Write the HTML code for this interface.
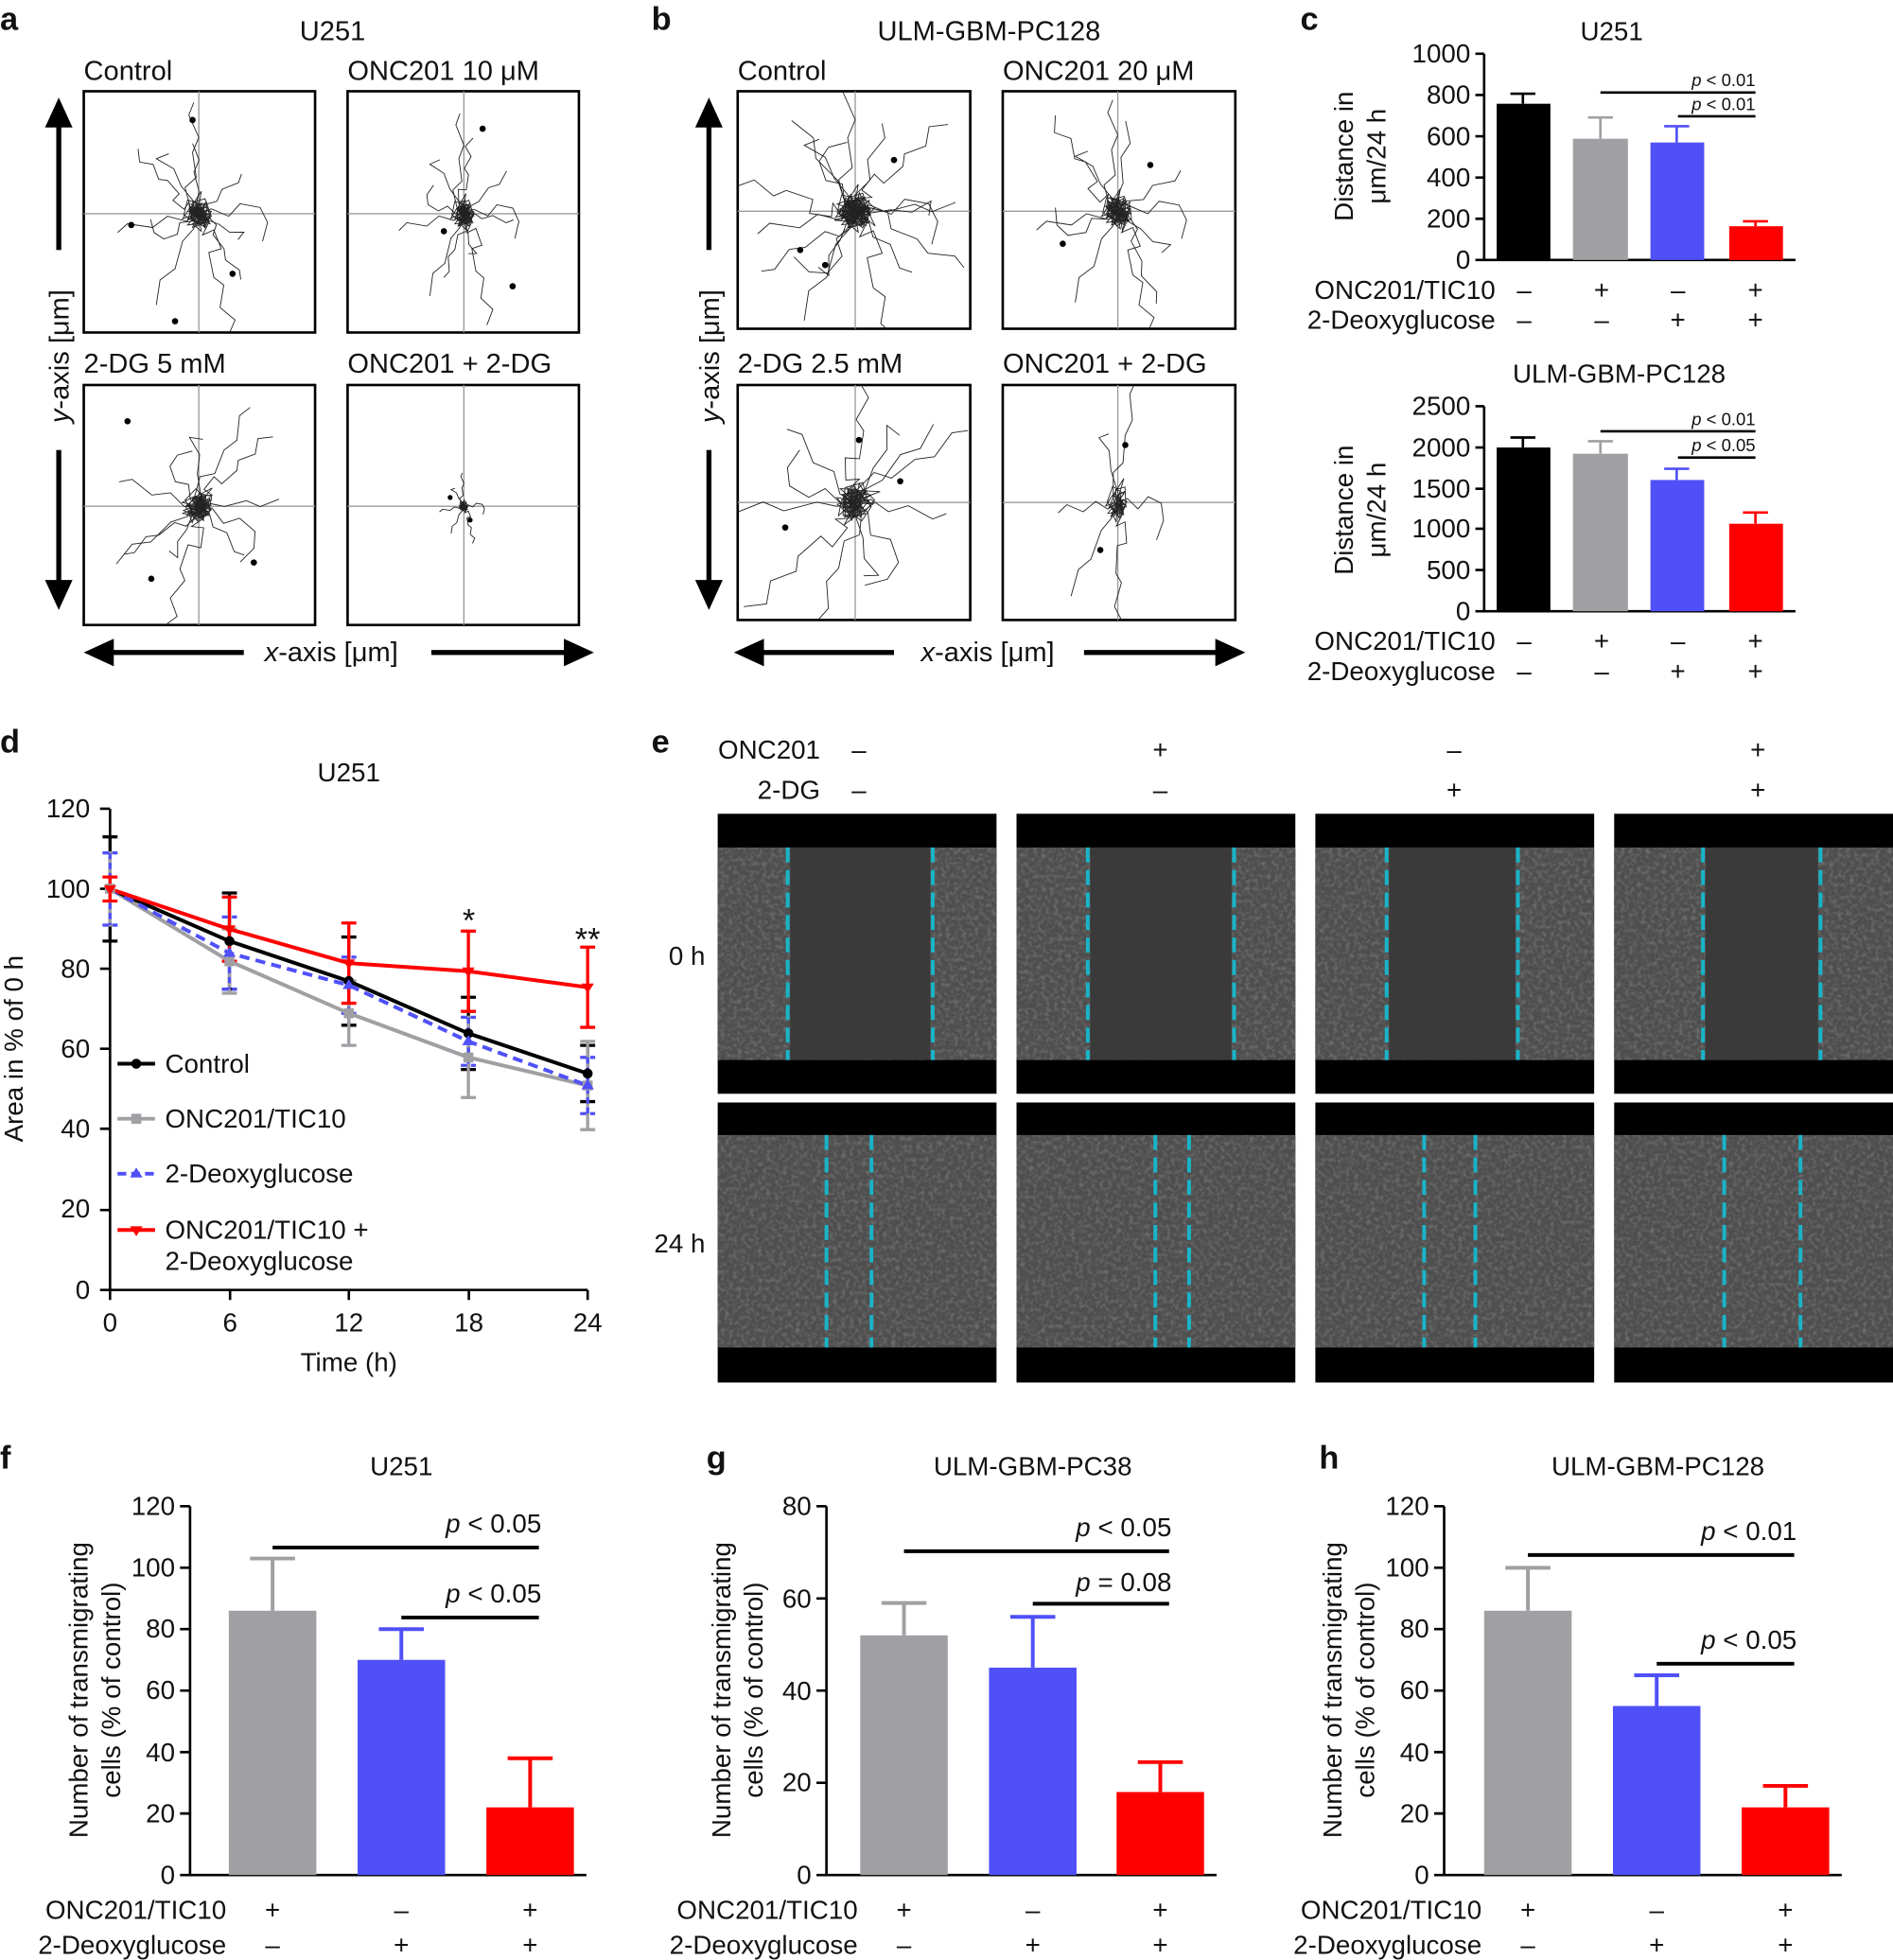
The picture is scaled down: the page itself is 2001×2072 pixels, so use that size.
<!DOCTYPE html>
<html><head><meta charset="utf-8"><style>
html,body{margin:0;padding:0;background:#fff}
svg{display:block}
text{font-family:"Liberation Sans",sans-serif;fill:#111}
</style></head><body>
<svg xmlns="http://www.w3.org/2000/svg" xmlns:xlink="http://www.w3.org/1999/xlink" width="2001" height="2072" viewBox="0 0 1514 1568" preserveAspectRatio="none">
<defs>
<filter id="tex" x="0" y="0" width="1" height="1"><feTurbulence type="fractalNoise" baseFrequency="0.3" numOctaves="2" seed="3"/><feColorMatrix type="matrix" values="0 0 0 0 1  0 0 0 0 1  0 0 0 0 1  0 0 0 1.2 -0.5"/></filter>
<clipPath id="c1"><rect x="67" y="73" width="185" height="193"/></clipPath>
<clipPath id="c2"><rect x="278" y="73" width="185" height="193"/></clipPath>
<clipPath id="c3"><rect x="67" y="308" width="185" height="192"/></clipPath>
<clipPath id="c4"><rect x="278" y="308" width="185" height="192"/></clipPath>
<clipPath id="c5"><rect x="590" y="73" width="186" height="190"/></clipPath>
<clipPath id="c6"><rect x="802" y="73" width="186" height="190"/></clipPath>
<clipPath id="c7"><rect x="590" y="308" width="186" height="188"/></clipPath>
<clipPath id="c8"><rect x="802" y="308" width="186" height="188"/></clipPath>
<g id="trk" fill="none" stroke="#222" stroke-width="0.9">
<path vector-effect="non-scaling-stroke" d="M0,0 l6,-9 l-8,4 l12,7 l-5,-14 l-10,3 l4,11 l9,-2 l-13,8 l7,6 l-3,-17 l11,1 l-6,12 l-9,-5 l14,-3 l-4,9 l-12,-8 l8,-10 l5,14 l-15,2 l6,-7 l9,5 l-11,4 l3,-9"/>
<path vector-effect="non-scaling-stroke" d="M0,0 l-9,5 l4,-11 l10,6 l-6,8 l-11,-7 l3,-12 l14,4 l-7,9 l-5,-6 l9,-14 l-3,18 l-12,4 l6,-9 l11,5 l-18,-22 l-6,-14 l-14,-8 l10,-4"/>
<path vector-effect="non-scaling-stroke" d="M0,0 l8,7 l-5,10 l9,-4 l6,15 l-10,3 l4,20 l8,6 l-3,18 l12,10 l-6,14"/>
<path vector-effect="non-scaling-stroke" d="M0,0 l-7,-6 l-4,-15 l9,-8 l-3,-20 l5,-12 l-8,-18 l4,-10"/>
<path vector-effect="non-scaling-stroke" d="M0,0 l-10,6 l-15,-4 l-12,9 l-20,-3 l-8,7"/>
<path vector-effect="non-scaling-stroke" d="M0,0 l10,-4 l14,6 l9,-10 l16,3 l6,12 l-4,15"/>
<path vector-effect="non-scaling-stroke" d="M0,0 l-4,12 l-9,10 l-6,22 l-12,9 l-3,20"/>
<path vector-effect="non-scaling-stroke" d="M0,0 l5,5 l-7,4 l6,-10 l4,7 l-9,-3 l7,-6 l-5,9 l8,2 l-6,-8 l-4,6 l9,-2"/>
</g>
</defs>
<g font-size="22">
<text x="0" y="24" font-size="26" font-weight="bold">a</text>
<text x="521" y="24" font-size="26" font-weight="bold">b</text>
<text x="1040" y="24" font-size="26" font-weight="bold">c</text>
<text x="0" y="602" font-size="26" font-weight="bold">d</text>
<text x="521" y="602" font-size="26" font-weight="bold">e</text>
<text x="0" y="1175" font-size="26" font-weight="bold">f</text>
<text x="565" y="1175" font-size="26" font-weight="bold">g</text>
<text x="1055" y="1175" font-size="26" font-weight="bold">h</text>
<text x="266" y="32" text-anchor="middle">U251</text>
<text x="67" y="64">Control</text><text x="278" y="64">ONC201 10 μM</text>
<text x="67" y="298">2-DG 5 mM</text><text x="278" y="298">ONC201 + 2-DG</text>
<text x="791" y="32" text-anchor="middle">ULM-GBM-PC128</text>
<text x="590" y="64">Control</text><text x="802" y="64">ONC201 20 μM</text>
<text x="590" y="298">2-DG 2.5 mM</text><text x="802" y="298">ONC201 + 2-DG</text>
</g>
<g fill="none" stroke="#000" stroke-width="2">
<rect x="67" y="73" width="185" height="193"/><rect x="278" y="73" width="185" height="193"/>
<rect x="67" y="308" width="185" height="192"/><rect x="278" y="308" width="185" height="192"/>
<rect x="590" y="73" width="186" height="190"/><rect x="802" y="73" width="186" height="190"/>
<rect x="590" y="308" width="186" height="188"/><rect x="802" y="308" width="186" height="188"/>
</g>
<path stroke="#999" stroke-width="1" d="M67,171H252M159,73V266 M278,171H463M371,73V266 M67,405H252M159,308V500 M278,405H463M371,308V500 M590,169H776M684,73V263 M802,169H988M894,73V263 M590,402H776M684,308V496 M802,402H988M894,308V496"/>
<g clip-path="url(#c1)"><use xlink:href="#trk" transform="translate(159,171) scale(1.0)"/><use xlink:href="#trk" transform="translate(159,171) rotate(150) scale(0.7)"/></g>
<g clip-path="url(#c2)"><use xlink:href="#trk" transform="translate(371,171) scale(0.8,0.9)"/><use xlink:href="#trk" transform="translate(371,171) rotate(200) scale(0.6)"/></g>
<g clip-path="url(#c3)"><use xlink:href="#trk" transform="translate(159,405) rotate(30) scale(1.0)"/><use xlink:href="#trk" transform="translate(159,405) rotate(240) scale(0.8)"/></g>
<g clip-path="url(#c4)"><use xlink:href="#trk" transform="translate(371,405) scale(0.3)"/></g>
<g clip-path="url(#c5)"><use xlink:href="#trk" transform="translate(684,169) scale(1.2)"/><use xlink:href="#trk" transform="translate(684,169) rotate(120) scale(1.1)"/><use xlink:href="#trk" transform="translate(684,169) rotate(240) scale(1.0)"/></g>
<g clip-path="url(#c6)"><use xlink:href="#trk" transform="translate(894,169) scale(1.0)"/><use xlink:href="#trk" transform="translate(894,169) rotate(160) scale(0.9)"/></g>
<g clip-path="url(#c7)"><use xlink:href="#trk" transform="translate(684,402) rotate(60) scale(1.2)"/><use xlink:href="#trk" transform="translate(684,402) rotate(200) scale(1.1)"/></g>
<g clip-path="url(#c8)"><use xlink:href="#trk" transform="translate(894,402) rotate(10) scale(0.7,1.1)"/></g>
<g fill="#000">
<circle cx="154" cy="96" r="2.5"/><circle cx="140" cy="257" r="2.5"/><circle cx="186" cy="219" r="2.5"/><circle cx="105" cy="180" r="2.5"/>
<circle cx="410" cy="229" r="2.5"/><circle cx="355" cy="185" r="2.5"/><circle cx="386" cy="103" r="2.5"/>
<circle cx="102" cy="337" r="2.5"/><circle cx="121" cy="463" r="2.5"/><circle cx="203" cy="450" r="2.5"/>
<circle cx="360" cy="398" r="2"/><circle cx="376" cy="416" r="2"/>
<circle cx="640" cy="200" r="2.5"/><circle cx="715" cy="128" r="2.5"/><circle cx="660" cy="212" r="2.5"/>
<circle cx="850" cy="195" r="2.5"/><circle cx="920" cy="132" r="2.5"/>
<circle cx="628" cy="422" r="2.5"/><circle cx="687" cy="352" r="2.5"/><circle cx="720" cy="385" r="2.5"/>
<circle cx="900" cy="356" r="2.5"/><circle cx="880" cy="440" r="2.5"/>
</g>
<g fill="#000">
<path d="M47,78 l-11,24h22z"/><rect x="45" y="100" width="4" height="100"/>
<path d="M47,488 l-11,-24h22z"/><rect x="45" y="360" width="4" height="106"/>
<path d="M67,522 l24,-11v22z"/><rect x="89" y="520" width="106" height="4"/>
<path d="M475,522 l-24,-11v22z"/><rect x="345" y="520" width="108" height="4"/>
<path d="M567,78 l-11,24h22z"/><rect x="565" y="100" width="4" height="100"/>
<path d="M567,488 l-11,-24h22z"/><rect x="565" y="360" width="4" height="106"/>
<path d="M587,522 l24,-11v22z"/><rect x="609" y="520" width="106" height="4"/>
<path d="M996,522 l-24,-11v22z"/><rect x="867" y="520" width="107" height="4"/>
</g>
<g font-size="22">
<text transform="translate(55,285) rotate(-90)" text-anchor="middle"><tspan font-style="italic">y</tspan>-axis [μm]</text>
<text transform="translate(575,285) rotate(-90)" text-anchor="middle"><tspan font-style="italic">y</tspan>-axis [μm]</text>
<text x="265" y="529" text-anchor="middle"><tspan font-style="italic">x</tspan>-axis [μm]</text>
<text x="790" y="529" text-anchor="middle"><tspan font-style="italic">x</tspan>-axis [μm]</text>
</g>

<!-- c top -->
<g font-size="21">
<text x="1289" y="32" text-anchor="middle">U251</text>
<g text-anchor="end"><text x="1176" y="50">1000</text><text x="1176" y="83">800</text><text x="1176" y="116">600</text><text x="1176" y="149">400</text><text x="1176" y="182">200</text><text x="1176" y="215">0</text></g>
<text transform="translate(1082,125) rotate(-90)" text-anchor="middle">Distance in</text>
<text transform="translate(1108,125) rotate(-90)" text-anchor="middle">μm/24 h</text>
<path d="M1187,43 V208 H1436 M1180,43H1187 M1180,76H1187 M1180,109H1187 M1180,142H1187 M1180,175H1187 M1180,208H1187" stroke="#000" stroke-width="2" fill="none"/>
<rect x="1197" y="83" width="43" height="125" fill="#000"/>
<rect x="1258" y="111" width="44" height="97" fill="#a0a0a4"/>
<rect x="1320" y="114" width="43" height="94" fill="#5050f8"/>
<rect x="1383" y="181" width="43" height="27" fill="#ff0000"/>
<path d="M1218,83V75M1208,75H1228" stroke="#000" stroke-width="2"/>
<path d="M1280,111V94M1270,94H1290" stroke="#a0a0a4" stroke-width="2"/>
<path d="M1341,114V101M1331,101H1351" stroke="#5050f8" stroke-width="2"/>
<path d="M1404,181V177M1394,177H1414" stroke="#ff0000" stroke-width="2"/>
<path d="M1280,74H1404M1342,93H1404" stroke="#000" stroke-width="2"/>
<text x="1404" y="69" font-size="14" text-anchor="end"><tspan font-style="italic">p</tspan> &lt; 0.01</text>
<text x="1404" y="88" font-size="14" text-anchor="end"><tspan font-style="italic">p</tspan> &lt; 0.01</text>
<text x="1196" y="239" text-anchor="end">ONC201/TIC10</text><text x="1196" y="263" text-anchor="end">2-Deoxyglucose</text>
<g text-anchor="middle"><text x="1219" y="239">–</text><text x="1281" y="239">+</text><text x="1342" y="239">–</text><text x="1404" y="239">+</text>
<text x="1219" y="263">–</text><text x="1281" y="263">–</text><text x="1342" y="263">+</text><text x="1404" y="263">+</text></g>
</g>
<!-- c bottom -->
<g font-size="21">
<text x="1295" y="306" text-anchor="middle">ULM-GBM-PC128</text>
<g text-anchor="end"><text x="1176" y="332">2500</text><text x="1176" y="365">2000</text><text x="1176" y="398">1500</text><text x="1176" y="430">1000</text><text x="1176" y="463">500</text><text x="1176" y="496">0</text></g>
<text transform="translate(1082,408) rotate(-90)" text-anchor="middle">Distance in</text>
<text transform="translate(1108,408) rotate(-90)" text-anchor="middle">μm/24 h</text>
<path d="M1187,325 V489 H1436 M1180,325H1187 M1180,358H1187 M1180,391H1187 M1180,423H1187 M1180,456H1187 M1180,489H1187" stroke="#000" stroke-width="2" fill="none"/>
<rect x="1197" y="358" width="43" height="131" fill="#000"/>
<rect x="1258" y="363" width="44" height="126" fill="#a0a0a4"/>
<rect x="1320" y="384" width="43" height="105" fill="#5050f8"/>
<rect x="1383" y="419" width="43" height="70" fill="#ff0000"/>
<path d="M1218,358V350M1208,350H1228" stroke="#000" stroke-width="2"/>
<path d="M1280,363V353M1270,353H1290" stroke="#a0a0a4" stroke-width="2"/>
<path d="M1341,384V375M1331,375H1351" stroke="#5050f8" stroke-width="2"/>
<path d="M1404,419V410M1394,410H1414" stroke="#ff0000" stroke-width="2"/>
<path d="M1280,345H1404M1342,366H1404" stroke="#000" stroke-width="2"/>
<text x="1404" y="340" font-size="14" text-anchor="end"><tspan font-style="italic">p</tspan> &lt; 0.01</text>
<text x="1404" y="361" font-size="14" text-anchor="end"><tspan font-style="italic">p</tspan> &lt; 0.05</text>
<text x="1196" y="520" text-anchor="end">ONC201/TIC10</text><text x="1196" y="544" text-anchor="end">2-Deoxyglucose</text>
<g text-anchor="middle"><text x="1219" y="520">–</text><text x="1281" y="520">+</text><text x="1342" y="520">–</text><text x="1404" y="520">+</text>
<text x="1219" y="544">–</text><text x="1281" y="544">–</text><text x="1342" y="544">+</text><text x="1404" y="544">+</text></g>
</g>

<!-- d -->
<g font-size="21">
<text x="279" y="625" text-anchor="middle">U251</text>
<g text-anchor="end"><text x="72" y="654">120</text><text x="72" y="718">100</text><text x="72" y="782">80</text><text x="72" y="846">60</text><text x="72" y="910">40</text><text x="72" y="974">20</text><text x="72" y="1039">0</text></g>
<text transform="translate(18,839) rotate(-90)" text-anchor="middle">Area in % of 0 h</text>
<path d="M88,647V1032H470 M80,647H88M80,711H88M80,775H88M80,839H88M80,903H88M80,968H88M80,1032H88 M88,1032V1040M184,1032V1040M279,1032V1040M375,1032V1040M470,1032V1040" stroke="#000" stroke-width="2" fill="none"/>
<g text-anchor="middle"><text x="88" y="1065">0</text><text x="184" y="1065">6</text><text x="279" y="1065">12</text><text x="375" y="1065">18</text><text x="470" y="1065">24</text></g>
<text x="279" y="1097" text-anchor="middle">Time (h)</text>
<g stroke-width="2.5" fill="none">
<path stroke="#000" d="M88,669.5V752.9M82,669.5h12M82,752.9h12 M183.5,714.4V791.4M177.5,714.4h12M177.5,791.4h12 M279,749.6V820.2M273,749.6h12M273,820.2h12 M374.6,797.8V855.6M368.6,797.8h12M368.6,855.6h12 M470,836.3V881.3M464,836.3h12M464,881.3h12"/>
<path stroke="#a0a0a4" d="M88,682.3V740.1M82,682.3h12M82,740.1h12 M183.5,743.2V794.6M177.5,743.2h12M177.5,794.6h12 M279,784.9V836.3M273,784.9h12M273,836.3h12 M374.6,813.8V878M368.6,813.8h12M368.6,878h12 M470,833.1V903.7M464,833.1h12M464,903.7h12"/>
<path stroke="#5050f8" stroke-dasharray="5,3" d="M88,682.3V740.1M82,682.3h12M82,740.1h12 M183.5,733.6V791.4M177.5,733.6h12M177.5,791.4h12 M279,765.7V810.7M273,765.7h12M273,810.7h12 M374.6,813.9V852.3M368.6,813.9h12M368.6,852.3h12 M470,845.9V890.9M464,845.9h12M464,890.9h12"/>
<path stroke="#ff0000" d="M88,701.6V720.8M82,701.6h12M82,720.8h12 M183.5,717.6V769M177.5,717.6h12M177.5,769h12 M279,738.4V802.6M273,738.4h12M273,802.6h12 M374.6,744.9V809.1M368.6,744.9h12M368.6,809.1h12 M470,757.7V821.9M464,757.7h12M464,821.9h12"/>
</g>
<g fill="none" stroke-width="3">
<path stroke="#a0a0a4" d="M88,711.2L183.5,768.9L279,810.6L374.6,845.9L470,868.4"/>
<path stroke="#000" d="M88,711.2L183.5,752.9L279,784.9L374.6,826.7L470,858.8"/>
<path stroke="#5050f8" stroke-dasharray="8,5" d="M88,711.2L183.5,762.5L279,788.2L374.6,833.1L470,868.4"/>
<path stroke="#ff0000" d="M88,711.2L183.5,743.3L279,770.5L374.6,777L470,789.8"/>
</g>
<g fill="#a0a0a4"><rect x="84" y="707" width="8" height="8"/><rect x="179.5" y="765" width="8" height="8"/><rect x="275" y="806.6" width="8" height="8"/><rect x="370.6" y="842" width="8" height="8"/><rect x="466" y="864.4" width="8" height="8"/></g>
<g fill="#000"><circle cx="183.5" cy="752.9" r="4"/><circle cx="279" cy="784.9" r="4"/><circle cx="374.6" cy="826.7" r="4"/><circle cx="470" cy="858.8" r="4"/></g>
<g fill="#5050f8"><path d="M183.5,757.5l5,8h-10z M279,783.2l5,8h-10z M374.6,828.1l5,8h-10z M470,863.4l5,8h-10z"/></g>
<g fill="#ff0000"><path d="M88,716.2l5,-8h-10z M183.5,748.3l5,-8h-10z M279,775.5l5,-8h-10z M374.6,782l5,-8h-10z M470,794.8l5,-8h-10z"/></g>
<text x="375" y="745" text-anchor="middle" font-size="26">*</text>
<text x="470" y="760" text-anchor="middle" font-size="26">**</text>
<path d="M94,851H124" stroke="#000" stroke-width="3"/><circle cx="109" cy="851" r="4"/>
<text x="132" y="858">Control</text>
<path d="M94,895H124" stroke="#a0a0a4" stroke-width="3"/><rect x="105" y="891" width="8" height="8" fill="#a0a0a4"/>
<text x="132" y="902">ONC201/TIC10</text>
<path d="M94,939H124" stroke="#5050f8" stroke-width="3" stroke-dasharray="7,4"/><path d="M109,934l5,8h-10z" fill="#5050f8"/>
<text x="132" y="946">2-Deoxyglucose</text>
<path d="M94,984H124" stroke="#ff0000" stroke-width="3"/><path d="M109,989l5,-8h-10z" fill="#ff0000"/>
<text x="132" y="991">ONC201/TIC10 +</text><text x="132" y="1016">2-Deoxyglucose</text>
</g>

<!-- e -->
<g font-size="21">
<text x="656" y="607" text-anchor="end">ONC201</text><text x="656" y="639" text-anchor="end">2-DG</text>
<g text-anchor="middle"><text x="687" y="607">–</text><text x="928" y="607">+</text><text x="1163" y="607">–</text><text x="1406" y="607">+</text>
<text x="687" y="639">–</text><text x="928" y="639">–</text><text x="1163" y="639">+</text><text x="1406" y="639">+</text></g>
<text x="564" y="772" text-anchor="end">0 h</text><text x="564" y="1002" text-anchor="end">24 h</text>
</g>
<g fill="#000">
<rect x="574" y="651" width="223" height="224"/><rect x="813" y="651" width="223" height="224"/><rect x="1052" y="651" width="223" height="224"/><rect x="1291" y="651" width="223" height="224"/>
<rect x="574" y="882" width="223" height="224"/><rect x="813" y="882" width="223" height="224"/><rect x="1052" y="882" width="223" height="224"/><rect x="1291" y="882" width="223" height="224"/>
</g>
<g fill="#4e4e4e">
<rect x="574" y="678" width="223" height="170"/><rect x="813" y="678" width="223" height="170"/><rect x="1052" y="678" width="223" height="170"/><rect x="1291" y="678" width="223" height="170"/>
<rect x="574" y="908" width="223" height="170"/><rect x="813" y="908" width="223" height="170"/><rect x="1052" y="908" width="223" height="170"/><rect x="1291" y="908" width="223" height="170"/>
</g>
<g opacity="0.35">
<rect x="574" y="678" width="223" height="170" filter="url(#tex)"/><rect x="813" y="678" width="223" height="170" filter="url(#tex)"/><rect x="1052" y="678" width="223" height="170" filter="url(#tex)"/><rect x="1291" y="678" width="223" height="170" filter="url(#tex)"/>
<rect x="574" y="908" width="223" height="170" filter="url(#tex)"/><rect x="813" y="908" width="223" height="170" filter="url(#tex)"/><rect x="1052" y="908" width="223" height="170" filter="url(#tex)"/><rect x="1291" y="908" width="223" height="170" filter="url(#tex)"/>
</g>
<g fill="#3a3a3a">
<rect x="632" y="678" width="112" height="170"/><rect x="872" y="678" width="113" height="170"/><rect x="1111" y="678" width="101" height="170"/><rect x="1364" y="678" width="90" height="170"/>
</g>
<g stroke="#19b4c8" stroke-width="3" stroke-dasharray="12,6">
<path d="M630,678V848M746,678V848M870,678V848M987,678V848M1109,678V848M1214,678V848M1362,678V848M1456,678V848"/>
<path d="M661,908V1078M697,908V1078M924,908V1078M951,908V1078M1139,908V1078M1180,908V1078M1379,908V1078M1440,908V1078"/>
</g>

<!-- f g h -->
<g font-size="21">
<text x="321" y="1180" text-anchor="middle">U251</text>
<text x="826" y="1180" text-anchor="middle">ULM-GBM-PC38</text>
<text x="1326" y="1180" text-anchor="middle">ULM-GBM-PC128</text>
<text transform="translate(70,1352) rotate(-90)" text-anchor="middle">Number of transmigrating</text>
<text transform="translate(96,1352) rotate(-90)" text-anchor="middle">cells (% of control)</text>
<text transform="translate(584,1352) rotate(-90)" text-anchor="middle">Number of transmigrating</text>
<text transform="translate(610,1352) rotate(-90)" text-anchor="middle">cells (% of control)</text>
<text transform="translate(1073,1352) rotate(-90)" text-anchor="middle">Number of transmigrating</text>
<text transform="translate(1099,1352) rotate(-90)" text-anchor="middle">cells (% of control)</text>
<g text-anchor="end">
<text x="140" y="1212">120</text><text x="140" y="1261">100</text><text x="140" y="1310">80</text><text x="140" y="1359">60</text><text x="140" y="1409">40</text><text x="140" y="1458">20</text><text x="140" y="1507">0</text>
<text x="649" y="1212">80</text><text x="649" y="1286">60</text><text x="649" y="1360">40</text><text x="649" y="1433">20</text><text x="649" y="1507">0</text>
<text x="1143" y="1212">120</text><text x="1143" y="1261">100</text><text x="1143" y="1310">80</text><text x="1143" y="1359">60</text><text x="1143" y="1409">40</text><text x="1143" y="1458">20</text><text x="1143" y="1507">0</text>
</g>
<path fill="none" stroke="#000" stroke-width="2" d="M152,1205V1500H469 M144,1205H152M144,1254.2H152M144,1303.3H152M144,1352.5H152M144,1401.7H152M144,1450.8H152M144,1500H152
M661,1205V1500H973 M653,1205H661M653,1278.75H661M653,1352.5H661M653,1426.25H661M653,1500H661
M1155,1205V1500H1473 M1147,1205H1155M1147,1254.2H1155M1147,1303.3H1155M1147,1352.5H1155M1147,1401.7H1155M1147,1450.8H1155M1147,1500H1155"/>
<rect x="183" y="1288.6" width="70" height="211.4" fill="#a0a0a4"/><rect x="286" y="1327.9" width="70" height="172.1" fill="#5050f8"/><rect x="389" y="1445.9" width="70" height="54.1" fill="#ff0000"/>
<rect x="688" y="1308.3" width="70" height="191.7" fill="#a0a0a4"/><rect x="791" y="1334.1" width="70" height="165.9" fill="#5050f8"/><rect x="893" y="1433.6" width="70" height="66.4" fill="#ff0000"/>
<rect x="1187" y="1288.6" width="70" height="211.4" fill="#a0a0a4"/><rect x="1290" y="1364.8" width="70" height="135.2" fill="#5050f8"/><rect x="1393" y="1445.9" width="70" height="54.1" fill="#ff0000"/>
<g stroke-width="3">
<path stroke="#a0a0a4" d="M218,1288.6V1246.8M200,1246.8h36 M723,1308.3V1282.4M705,1282.4h36 M1222,1288.6V1254.2M1204,1254.2h36"/>
<path stroke="#5050f8" d="M321,1327.9V1303.3M303,1303.3h36 M826,1334.1V1293.5M808,1293.5h36 M1325,1364.8V1340.2M1307,1340.2h36"/>
<path stroke="#ff0000" d="M424,1445.9V1406.6M406,1406.6h36 M928,1433.6V1409.7M910,1409.7h36 M1428,1445.9V1428.7M1410,1428.7h36"/>
<path stroke="#000" d="M218,1238H431M321,1294H431 M723,1241H935M826,1283H935 M1222,1244H1435M1325,1331H1435"/>
</g>
<g text-anchor="end">
<text x="433" y="1226"><tspan font-style="italic">p</tspan> &lt; 0.05</text><text x="433" y="1282"><tspan font-style="italic">p</tspan> &lt; 0.05</text>
<text x="937" y="1229"><tspan font-style="italic">p</tspan> &lt; 0.05</text><text x="937" y="1273"><tspan font-style="italic">p</tspan> = 0.08</text>
<text x="1437" y="1232"><tspan font-style="italic">p</tspan> &lt; 0.01</text><text x="1437" y="1319"><tspan font-style="italic">p</tspan> &lt; 0.05</text>
<text x="181" y="1535">ONC201/TIC10</text><text x="181" y="1563">2-Deoxyglucose</text>
<text x="686" y="1535">ONC201/TIC10</text><text x="686" y="1563">2-Deoxyglucose</text>
<text x="1185" y="1535">ONC201/TIC10</text><text x="1185" y="1563">2-Deoxyglucose</text>
</g>
<g text-anchor="middle">
<text x="218" y="1535">+</text><text x="321" y="1535">–</text><text x="424" y="1535">+</text><text x="218" y="1563">–</text><text x="321" y="1563">+</text><text x="424" y="1563">+</text>
<text x="723" y="1535">+</text><text x="826" y="1535">–</text><text x="928" y="1535">+</text><text x="723" y="1563">–</text><text x="826" y="1563">+</text><text x="928" y="1563">+</text>
<text x="1222" y="1535">+</text><text x="1325" y="1535">–</text><text x="1428" y="1535">+</text><text x="1222" y="1563">–</text><text x="1325" y="1563">+</text><text x="1428" y="1563">+</text>
</g>
</g>
</svg>
</body></html>
